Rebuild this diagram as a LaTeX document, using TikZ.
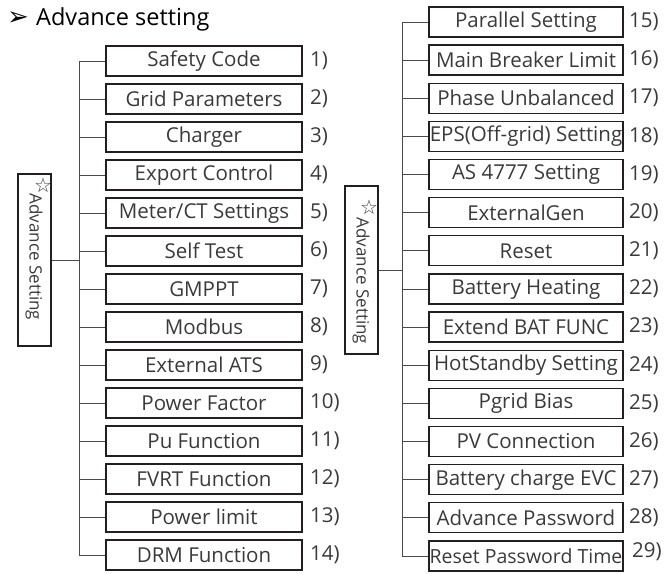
\documentclass[tikz,border=0pt]{standalone}
\usepackage{fontspec}
\setmainfont{Open Sans}
\newfontfamily\symfont{DejaVu Sans}
\definecolor{boxline}{HTML}{231F20}
\definecolor{txt}{HTML}{3A3A3A}
\definecolor{conn}{HTML}{4A4A4A}
\tikzset{
  itembox/.style={draw=boxline, line width=1.3pt, minimum height=30pt, inner sep=0pt, text=txt, font=\fontsize{20.5}{21}\selectfont},
  leftbox/.style={itembox, minimum width=196pt},
  rightbox/.style={itembox, minimum width=194pt},
  numlabel/.style={anchor=west, inner sep=0pt, text=txt, font=\fontsize{20.5}{21}\selectfont},
  advbox/.style={draw=boxline, line width=1.1pt, minimum width=33pt, inner sep=0pt},
  advtext/.style={rotate=-90, inner sep=0pt, text=txt, font=\fontsize{17}{17}\selectfont},
  starmark/.style={inner sep=0pt, text=txt, font=\symfont\fontsize{20}{20}\selectfont},
  conline/.style={draw=conn, line width=0.9pt},
}
\begin{document}
\begin{tikzpicture}[x=1pt, y=-1pt]
\useasboundingbox (0,0) rectangle (672,573);
% title
\node[anchor=west, inner sep=0pt, font=\symfont\fontsize{26}{26}\selectfont] (arrowmark) at (7,19) {➢};
\node[anchor=west, inner sep=0pt, font=\fontsize{23.5}{24}\selectfont] (title) at (36,19) {Advance setting};

% left group
\node[advbox, minimum height=172pt] (advL) at (34.5,260) {};
\node[advtext] (advLt) at (34,257) {Advance Setting};
\node[starmark] (starL) at (43,185) {☆};
\coordinate (jL) at (79,260);

\foreach \k/\t in {0/Safety Code,1/Grid Parameters,2/Charger,3/Export Control,4/{Meter/CT Settings},5/Self Test,6/GMPPT,7/Modbus,8/External ATS,9/Power Factor,10/Pu Function,11/FVRT Function,12/Power limit,13/DRM Function}{
  \pgfmathsetmacro{\yy}{61+38*\k}
  \pgfmathtruncatemacro{\nn}{\k+1}
  \node[leftbox] (L\k) at (204,\yy) {\t};
  \node[numlabel] (Ln\k) at (310,\yy) {\nn)};
  \draw[conline] (L\k.west -| jL) -- (L\k.west);
}
\draw[conline] (L0.west -| jL) -- (L13.west -| jL);
\draw[conline] (advL.east |- jL) -- (jL);

% right group
\node[advbox, minimum height=168pt] (advR) at (361.5,270) {};
\node[advtext] (advRt) at (361,281) {Advance Setting};
\node[starmark] (starR) at (369,207) {☆};
\coordinate (jR) at (402,270);

\foreach \k/\t in {0/Parallel Setting,1/Main Breaker Limit,2/Phase Unbalanced,3/EPS(Off-grid) Setting,4/AS 4777 Setting,5/ExternalGen,6/Reset,7/Battery Heating,8/Extend BAT FUNC,9/HotStandby Setting,10/Pgrid Bias,11/PV Connection,12/Battery charge EVC,13/Advance Password}{
  \pgfmathsetmacro{\yy}{22+38.14*\k}
  \pgfmathtruncatemacro{\nn}{\k+15}
  \node[rightbox] (R\k) at (526,\yy) {\t};
  \node[numlabel] (Rn\k) at (629,\yy) {\nn)};
  \draw[conline] (R\k.west -| jR) -- (R\k.west);
}
\node[rightbox, font=\fontsize{19.5}{20}\selectfont] (R14) at (526,556) {Reset Password Time};
\node[numlabel] (Rn14) at (632,552) {29)};
\draw[conline] (R14.west -| jR) -- (R14.west);
\draw[conline] (R0.west -| jR) -- (R14.west -| jR);
\draw[conline] (advR.east |- jR) -- (jR);
\end{tikzpicture}
\end{document}
